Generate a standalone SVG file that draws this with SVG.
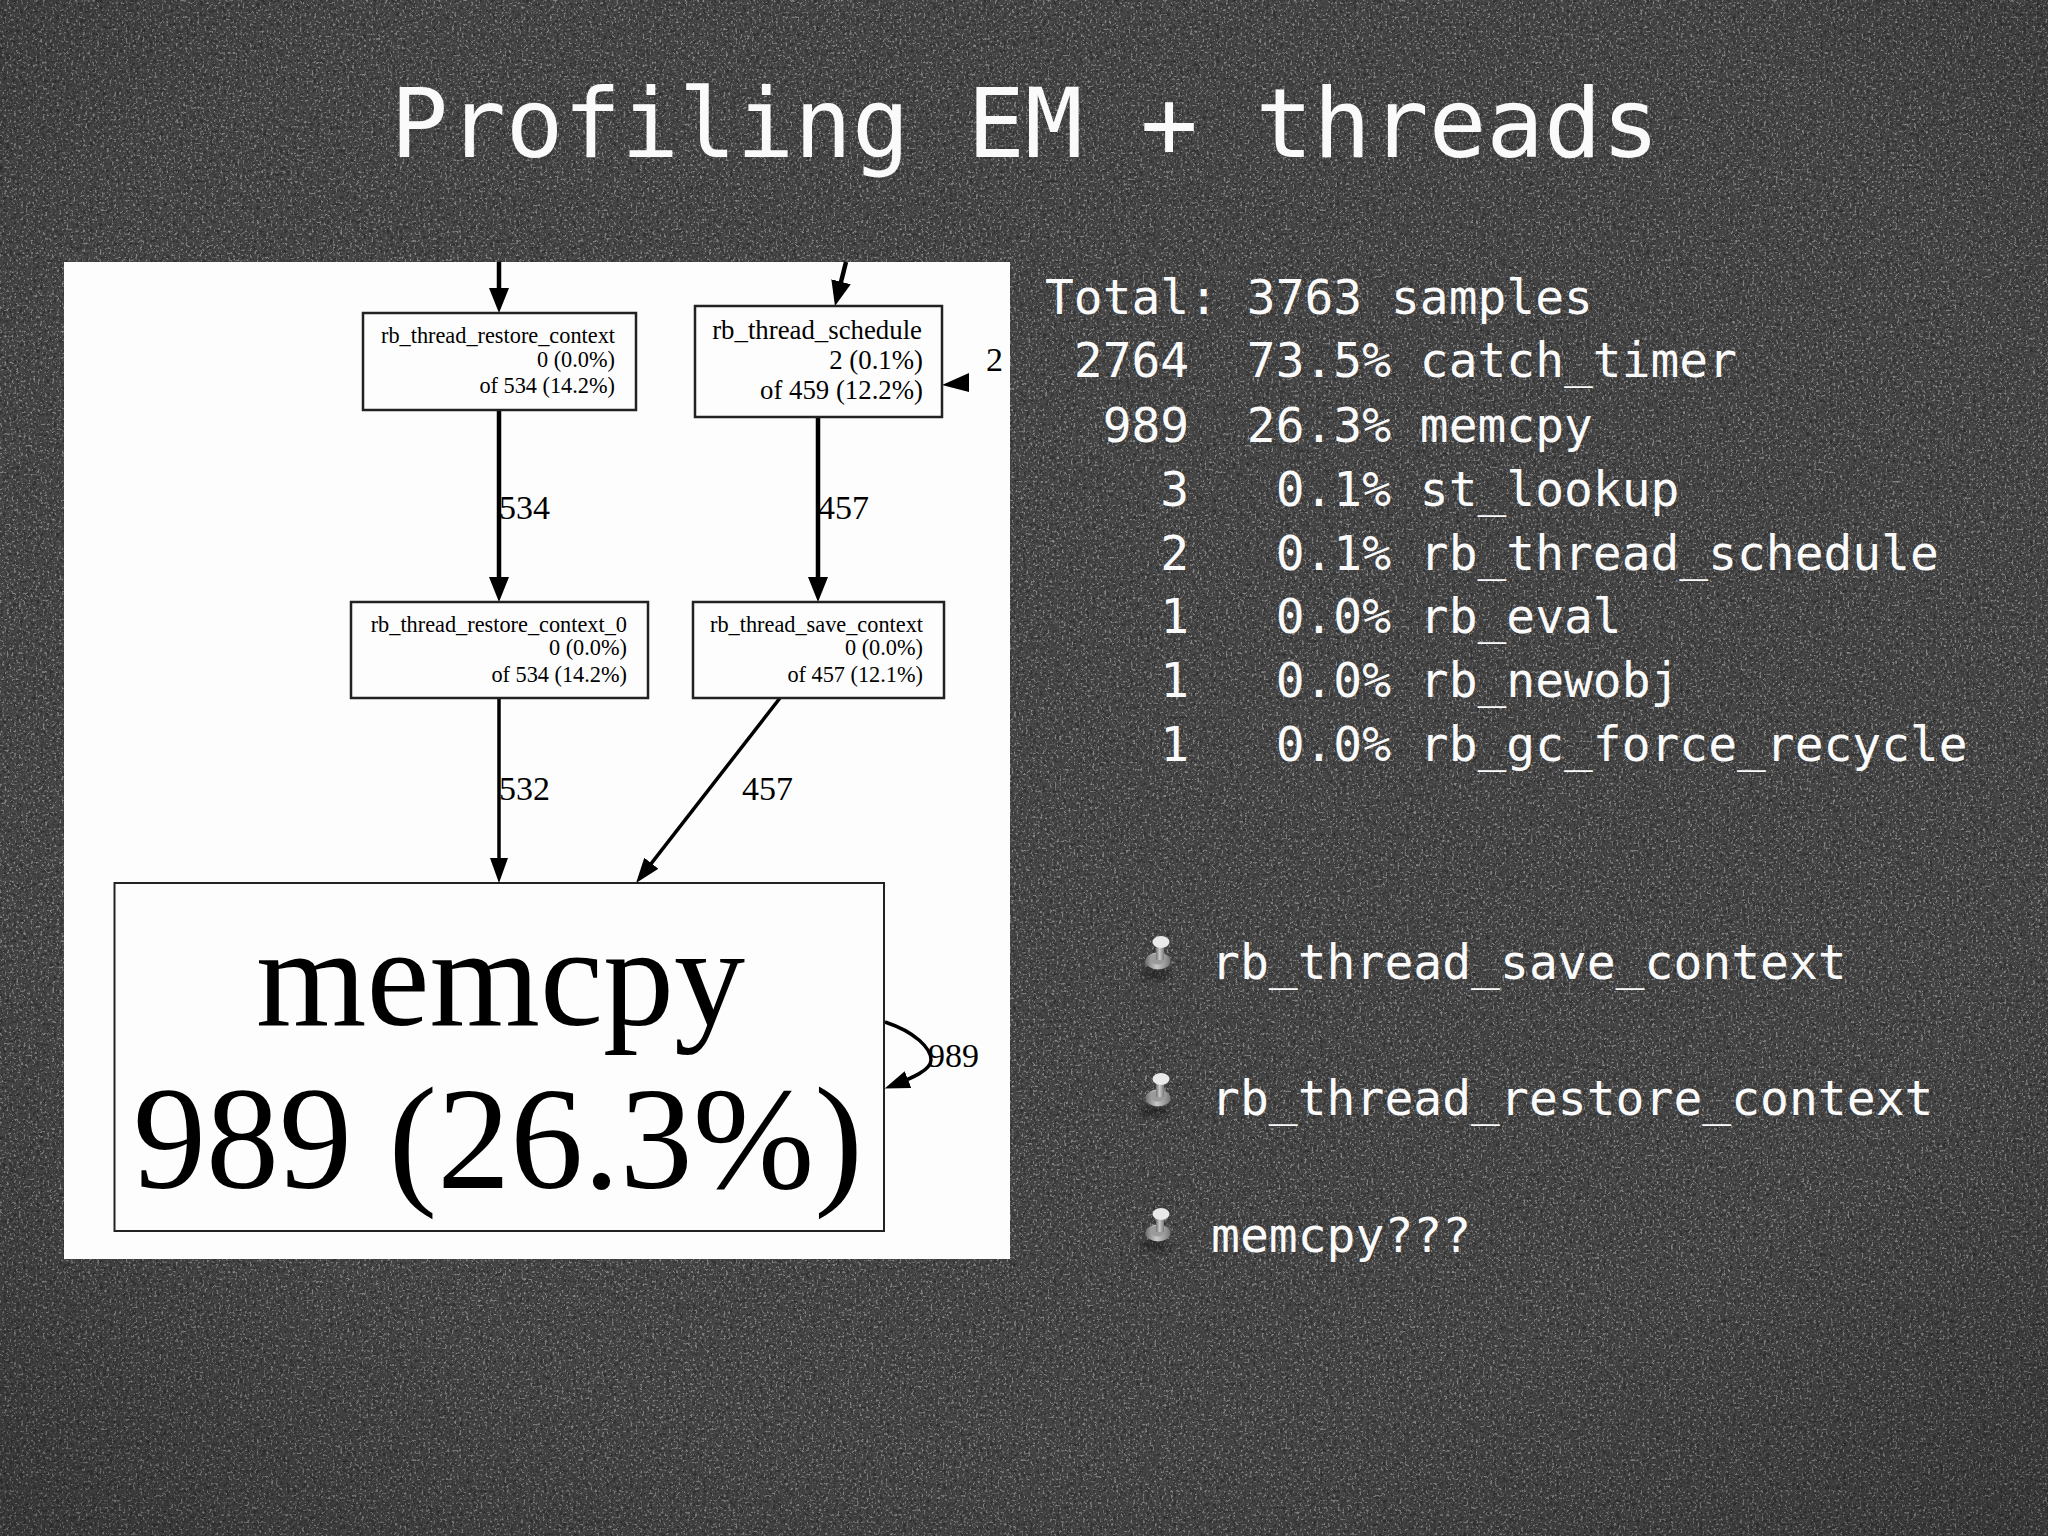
<svg xmlns="http://www.w3.org/2000/svg" width="2048" height="1536" viewBox="0 0 2048 1536">
<style>
.mono{font-family:"DejaVu Sans Mono","Liberation Mono",monospace;fill:#fafafa}
.stat{font-size:47.9px}
.bul{font-size:48px}
.ser{font-family:"Liberation Serif","Times New Roman",serif;fill:#000}
.s21{font-size:22.3px;text-anchor:end}
.s26{font-size:26.8px;text-anchor:end}
.lab{font-size:34px}
.box{fill:#fdfdfd;stroke:#222;stroke-width:2.5}
.edge{fill:none;stroke:#000;stroke-width:4.500}
.thin{stroke-width:3.500}
</style>
<defs>
<filter id="speck" x="0" y="0" width="100%" height="100%" color-interpolation-filters="sRGB">
<feTurbulence type="fractalNoise" baseFrequency="0.42" numOctaves="3" seed="4"/>
<feColorMatrix values="0 0 0 0 1 0 0 0 0 1 0 0 0 0 1 6 0 0 0 -3.4"/>
</filter>
<filter id="dark" x="0" y="0" width="100%" height="100%" color-interpolation-filters="sRGB">
<feTurbulence type="fractalNoise" baseFrequency="0.3" numOctaves="2" seed="11"/>
<feColorMatrix values="0 0 0 0 0 0 0 0 0 0 0 0 0 0 0 0 3 0 0 -1.4"/>
</filter>
<filter id="soft" x="-50%" y="-50%" width="200%" height="200%"><feGaussianBlur stdDeviation="3"/></filter>
<radialGradient id="vig" cx="50%" cy="42%" r="75%">
<stop offset="0" stop-color="#000" stop-opacity="0"/>
<stop offset="0.7" stop-color="#000" stop-opacity="0.02"/>
<stop offset="1" stop-color="#000" stop-opacity="0.2"/>
</radialGradient>
<marker id="h" markerUnits="userSpaceOnUse" viewBox="0 0 25 20" refX="15" refY="10" markerWidth="25" markerHeight="20" orient="auto"><path d="M0 0L25 10L0 20Z" fill="#000"/></marker>
<marker id="hs" markerUnits="userSpaceOnUse" viewBox="0 0 25 18" refX="15" refY="9" markerWidth="25" markerHeight="18" orient="auto"><path d="M0 0L25 9L0 18Z" fill="#000"/></marker>
<linearGradient id="pinb" x1="0" x2="1" y1="0" y2="0"><stop offset="0" stop-color="#6f6f6f"/><stop offset="0.45" stop-color="#c9c9c9"/><stop offset="1" stop-color="#777"/></linearGradient>
<g id="pin">
<ellipse cx="-3" cy="19" rx="14" ry="5" fill="#111" opacity="0.55" filter="url(#soft)"/>
<ellipse cx="0" cy="6" rx="12.500" ry="8.500" fill="url(#pinb)"/>
<ellipse cx="0" cy="4" rx="7.500" ry="5.500" fill="#9a9a9a"/>
<rect x="-2" y="-10" width="8" height="15" fill="url(#pinb)"/>
<ellipse cx="3" cy="-13" rx="8.500" ry="6" fill="#e9e9e9"/>
</g>
</defs>
<g id="background">
<rect width="2048" height="1536" fill="#464646"/>
<rect width="2048" height="1536" filter="url(#dark)" opacity="0.35"/>
<rect width="2048" height="1536" filter="url(#speck)" opacity="0.35"/>
<rect width="2048" height="1536" fill="url(#vig)"/>
</g>
<text id="title" class="mono" x="390.500" y="157" font-size="95.800">Profiling EM + threads</text>
<rect id="panel" x="64" y="262" width="946" height="997" fill="#fdfdfd"/>
<g id="connectors">
<path class="edge" d="M499 262V303" marker-end="url(#h)"/>
<path class="edge" d="M846 262L837.4 296.3" marker-end="url(#h)"/>
<path class="edge" d="M499 410V592" marker-end="url(#h)"/>
<path class="edge" d="M818 417V592" marker-end="url(#h)"/>
<path class="edge thin" d="M499 698V873" marker-end="url(#hs)"/>
<path class="edge thin" d="M780 698L642.2 875.1" marker-end="url(#hs)"/>
<path class="edge thin" d="M885 1022C915 1032 931 1048 931 1060C931 1070 912 1078 894 1085" marker-end="url(#hs)"/>
<path d="M942 385L969 373V392Z" fill="#000"/>
<text class="ser lab" x="499" y="519">534</text>
<text class="ser lab" x="818" y="519">457</text>
<text class="ser lab" x="499" y="800">532</text>
<text class="ser lab" x="742" y="800">457</text>
<text class="ser lab" x="928" y="1067">989</text>
<text class="ser lab" x="986" y="371">2</text>
</g>
<g id="node-restore">
<rect class="box" x="363" y="313" width="273" height="97"/>
<text class="ser s21" x="615" y="343">rb_thread_restore_context</text>
<text class="ser s21" x="615" y="367">0 (0.0%)</text>
<text class="ser s21" x="615" y="393">of 534 (14.2%)</text>
</g>
<g id="node-schedule">
<rect class="box" x="695" y="306" width="247" height="111"/>
<text class="ser s26" x="922" y="339">rb_thread_schedule</text>
<text class="ser s26" x="923" y="369">2 (0.1%)</text>
<text class="ser s26" x="923" y="399">of 459 (12.2%)</text>
</g>
<g id="node-restore0">
<rect class="box" x="351" y="602" width="297" height="96"/>
<text class="ser s21" x="627" y="632">rb_thread_restore_context_0</text>
<text class="ser s21" x="627" y="655">0 (0.0%)</text>
<text class="ser s21" x="627" y="682">of 534 (14.2%)</text>
</g>
<g id="node-save">
<rect class="box" x="693" y="602" width="251" height="96"/>
<text class="ser s21" x="923" y="632">rb_thread_save_context</text>
<text class="ser s21" x="923" y="655">0 (0.0%)</text>
<text class="ser s21" x="923" y="682">of 457 (12.1%)</text>
</g>
<g id="node-memcpy">
<rect class="box" style="stroke-width:2" x="114.500" y="883" width="769.500" height="348"/>
<text class="ser" x="500.500" y="1025" font-size="142" text-anchor="middle">memcpy</text>
<text class="ser" x="498" y="1188" font-size="146" text-anchor="middle">989 (26.3%)</text>
</g>
<g id="stats" class="mono stat">
<text xml:space="preserve" x="1045" y="314">Total: 3763 samples</text>
<text xml:space="preserve" x="1045" y="377"> 2764  73.5% catch_timer</text>
<text xml:space="preserve" x="1045" y="442">  989  26.3% memcpy</text>
<text xml:space="preserve" x="1045" y="506">    3   0.1% st_lookup</text>
<text xml:space="preserve" x="1045" y="570">    2   0.1% rb_thread_schedule</text>
<text xml:space="preserve" x="1045" y="633">    1   0.0% rb_eval</text>
<text xml:space="preserve" x="1045" y="697">    1   0.0% rb_newobj</text>
<text xml:space="preserve" x="1045" y="761">    1   0.0% rb_gc_force_recycle</text>
</g>
<g id="bullet-1">
<use href="#pin" x="1158" y="955"/>
<text class="mono bul" x="1211" y="979">rb_thread_save_context</text>
</g>
<g id="bullet-2">
<use href="#pin" x="1158" y="1092"/>
<text class="mono bul" x="1211" y="1115">rb_thread_restore_context</text>
</g>
<g id="bullet-3">
<use href="#pin" x="1158" y="1227"/>
<text class="mono bul" x="1211" y="1252">memcpy???</text>
</g>
</svg>
